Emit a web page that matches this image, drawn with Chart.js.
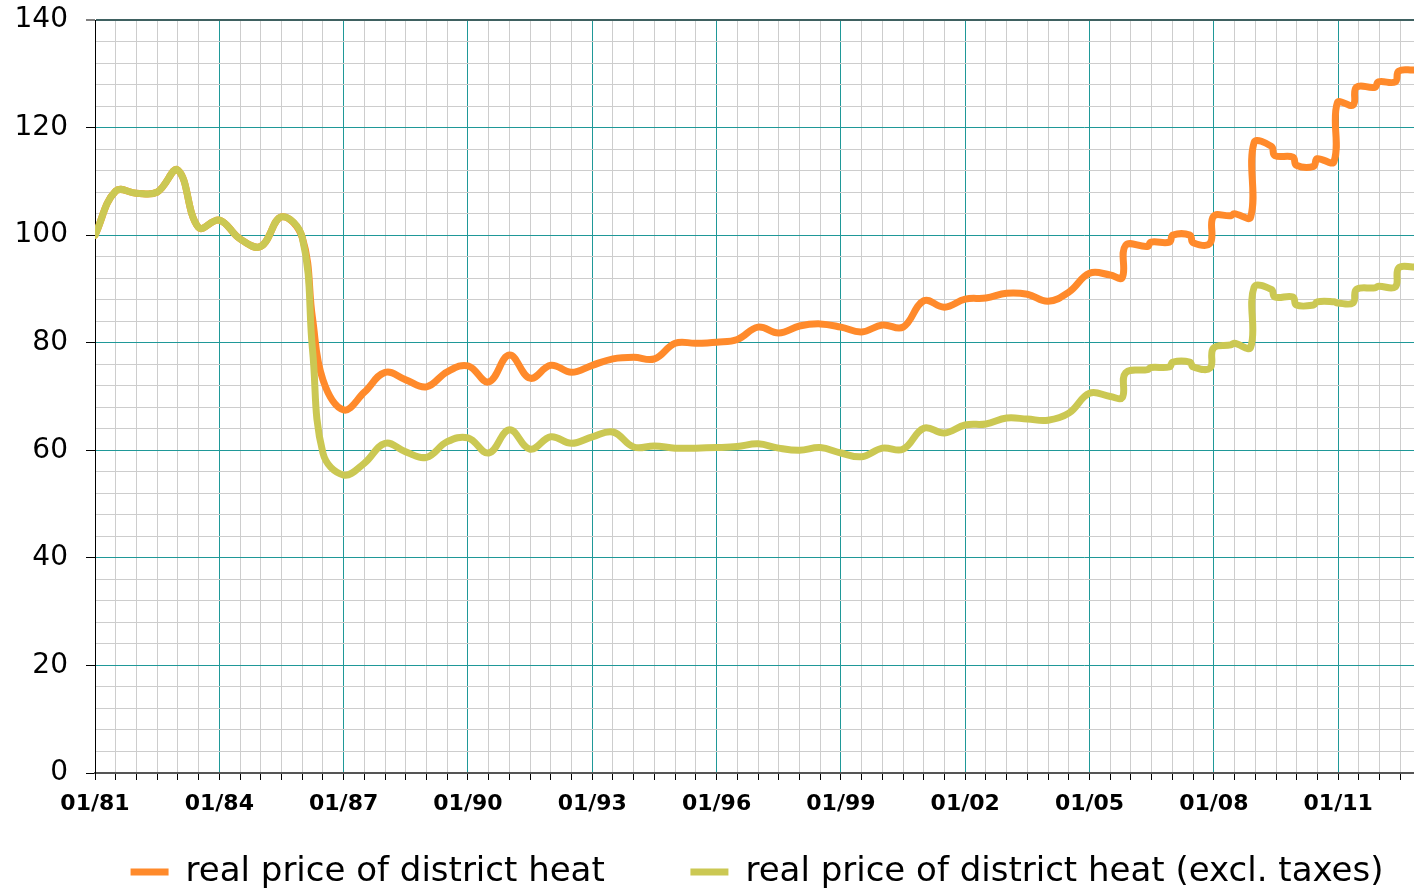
<!DOCTYPE html>
<html>
<head>
<meta charset="utf-8">
<script src="https://cdn.jsdelivr.net/npm/chart.js@4/dist/chart.umd.min.js"></script>
<style>
	html, body { margin: 0; padding: 0; background: #fff; }
	#wrap { width: 1414px; height: 891px; }
</style>
</head>
<body>
<div id="wrap"><canvas id="heat"></canvas></div>
<script>
// decimal years
var dates = [
	1981.0, 1981.5, 1982.0, 1982.5, 1983.0, 1983.5, 1984.0, 1984.5, 1985.0, 1985.5, 1986.0, 1986.25, 1986.5,
	1987.0, 1987.5, 1988.0, 1988.5, 1989.0, 1989.5, 1990.0, 1990.5, 1991.0, 1991.5, 1992.0, 1992.5,
	1993.0, 1993.5, 1994.0, 1994.5, 1995.0, 1995.5, 1996.0, 1996.5, 1997.0, 1997.5, 1998.0, 1998.5,
	1999.0, 1999.5, 2000.0, 2000.5, 2001.0, 2001.5, 2002.0, 2002.5, 2003.0, 2003.5, 2004.0, 2004.5,
	2005.0, 2005.5, 2005.79,
	2005.87, 2006.40, 2006.48, 2006.93, 2007.01, 2007.42, 2007.50, 2007.91, 2007.99, 2008.41,
	2008.49, 2008.89, 2008.97, 2009.39, 2009.47, 2009.91, 2009.99, 2010.41, 2010.49, 2010.90,
	2010.98, 2011.36, 2011.44, 2011.89, 2011.97, 2012.38, 2012.46, 2012.83
];

var realPrice = [
	100, 108.2, 107.8, 108.0, 112.1, 101.4, 102.8, 99.3, 97.9, 103.4, 99.6, 84.5, 73.1,
	67.5, 70.8, 74.5, 73.1, 71.8, 74.6, 75.7, 72.7, 77.7, 73.4, 75.8, 74.5,
	75.8, 77.0, 77.3, 77.0, 79.9, 79.9, 80.1, 80.6, 82.9, 81.8, 83.1, 83.5,
	82.9, 82.0, 83.3, 82.9, 87.8, 86.6, 88.1, 88.3, 89.2, 89.0, 87.7, 89.4,
	92.9, 92.6, 92.1,
	98.1, 97.9, 98.7, 98.7, 100.0, 100.0, 98.6, 98.5, 103.5, 103.6,
	104.0, 103.4, 117.2, 116.5, 114.8, 114.5, 113.0, 112.8, 114.2, 113.7,
	124.6, 124.2, 127.5, 127.5, 128.5, 128.5, 130.5, 130.7
];

var realPriceNoTax = [
	100, 108.2, 107.8, 108.0, 112.1, 101.4, 102.8, 99.3, 97.9, 103.4, 99.6, 78.6, 59.5,
	55.4, 57.6, 61.3, 59.7, 58.7, 61.6, 62.3, 59.5, 63.8, 60.2, 62.5, 61.3,
	62.5, 63.4, 60.6, 60.8, 60.4, 60.4, 60.5, 60.7, 61.2, 60.4, 60.0, 60.5,
	59.5, 58.8, 60.4, 60.2, 64.1, 63.2, 64.7, 64.9, 66.0, 65.8, 65.6, 66.9,
	70.6, 70.0, 69.8,
	74.4, 75.0, 75.4, 75.5, 76.4, 76.4, 75.5, 75.3, 79.0, 79.6,
	79.9, 79.2, 90.3, 89.9, 88.5, 88.5, 87.0, 87.0, 87.6, 87.6,
	87.4, 87.4, 89.9, 90.2, 90.5, 90.4, 93.9, 94.1
];

var majorYears = [1981, 1984, 1987, 1990, 1993, 1996, 1999, 2002, 2005, 2008, 2011];
var tickLabels = ['01/81', '01/84', '01/87', '01/90', '01/93', '01/96', '01/99', '01/02', '01/05', '01/08', '01/11'];

var seriesNames = ['real price of district heat', 'real price of district heat (excl. taxes)'];

var TEAL = '#1f9898';
var GREY = '#cdcdcd';

function points(values) {
	return dates.map(function (d, i) {
		return { x: d, y: values[i] };
	});
}

// legend sits a bit right of centre in the original
var nudgeLegend = {
	id: 'nudgeLegend',
	afterLayout: function (chart) {
		chart.legend.left += 100;
		chart.legend.top += 8;
		chart.legend.bottom += 8;
	}
};

Chart.defaults.font.family = 'DejaVu Sans';
Chart.defaults.color = '#000';

var ctx = document.getElementById('heat').getContext('2d');

var chart = new Chart(ctx, {
	type: 'line',
	data: {
		datasets: [{
			label: seriesNames[0] + '       ',
			data: points(realPrice),
			borderColor: '#ff8a2b',
			backgroundColor: '#ff8a2b',
			borderWidth: 7,
			tension: 0.4,
			borderCapStyle: 'round',
			borderJoinStyle: 'round',
			pointRadius: 0,
			order: 2
		}, {
			label: seriesNames[1],
			data: points(realPriceNoTax),
			borderColor: '#cbc853',
			backgroundColor: '#cbc853',
			borderWidth: 7,
			tension: 0.4,
			borderCapStyle: 'round',
			borderJoinStyle: 'round',
			pointRadius: 0,
			order: 1
		}]
	},
	options: {
		responsive: true,
		maintainAspectRatio: false,
		animation: false,
		layout: { padding: 0 },
		plugins: {
			tooltip: { enabled: false },
			legend: {
				position: 'bottom',
				labels: {
					usePointStyle: true,
					pointStyle: 'line',
					pointStyleWidth: 38,
					padding: 10,
					font: { size: 34 },
					color: '#000',
					sort: function (a, b) { return a.datasetIndex - b.datasetIndex; }
				}
			}
		},
		scales: {
			x: {
				type: 'linear',
				min: 1981,
				max: 2012.83,
				afterBuildTicks: function (axis) {
					var t = [];
					for (var v = 1981; v <= 2012.5; v += 0.5) t.push({ value: v });
					axis.ticks = t;
				},
				afterFit: function (scale) { scale.height = 64; },
				ticks: {
					autoSkip: false,
					maxRotation: 0,
					minRotation: 0,
					padding: 11,
					font: { size: 22, weight: 'bold' },
					callback: function (value) {
						var i = majorYears.indexOf(value);
						return i >= 0 ? tickLabels[i] : '';
					}
				},
				grid: {
					color: function (c) {
						return c.tick && majorYears.indexOf(c.tick.value) >= 0 ? TEAL : GREY;
					},
					lineWidth: 1,
					tickLength: 7,
					tickColor: '#000',
					tickWidth: 1
				},
				border: { color: '#555', width: 2 }
			},
			y: {
				min: 0,
				max: 140,
				afterFit: function (scale) {
					scale.width = 95;
					scale.paddingTop = 20;
					scale.paddingBottom = 0;
				},
				ticks: {
					stepSize: 4,
					autoSkip: false,
					padding: 18,
					font: { size: 28 },
					callback: function (value) {
						return value % 20 === 0 ? String(value) : '';
					}
				},
				grid: {
					color: function (c) {
						if (!c.tick) return GREY;
						var v = c.tick.value;
						if (v === 140) return '#3f6161';
						return v % 20 === 0 ? TEAL : GREY;
					},
					lineWidth: function (c) {
						return c.tick && c.tick.value === 140 ? 2 : 1;
					},
					tickLength: 9,
					tickColor: function (c) {
						return c.tick && c.tick.value % 20 === 0 ? '#000' : 'rgba(0,0,0,0)';
					},
					tickWidth: 1
				},
				border: { color: '#000', width: 1 }
			}
		}
	},
	plugins: [nudgeLegend]
});
</script>
</body>
</html>
